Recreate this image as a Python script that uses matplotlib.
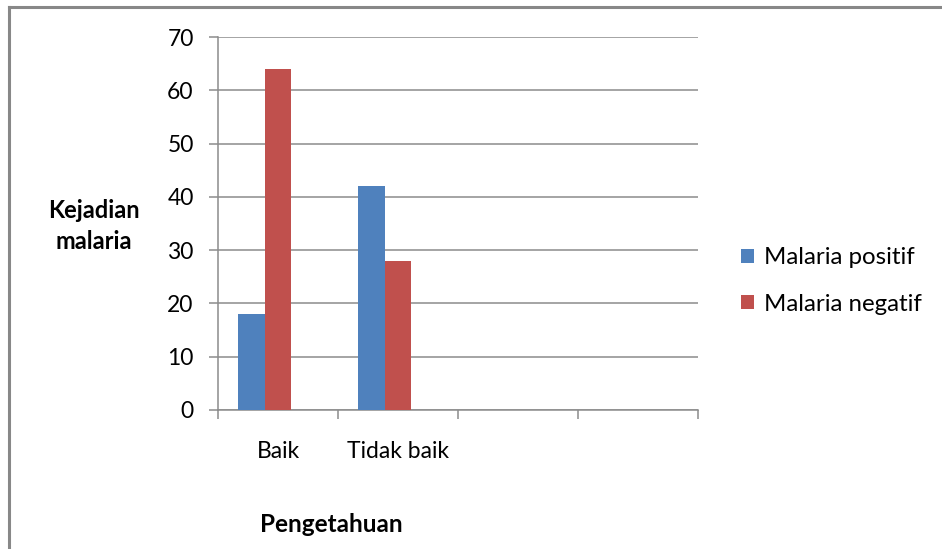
import matplotlib
matplotlib.use("Agg")
import matplotlib.pyplot as plt
from matplotlib.lines import Line2D
from matplotlib.patches import Patch
import numpy as np

categories = ["Baik", "Tidak baik", "", ""]
malaria_positif = [18, 42, None, None]
malaria_negatif = [64, 28, None, None]
series_names = ["Malaria positif", "Malaria negatif"]
colors = ["#4F81BD", "#C0504D"]
grid_color = "#8C8C8C"

plt.rcParams["font.family"] = ["Lato", "DejaVu Sans"]

W, H = 942, 549
fig = plt.figure(figsize=(W / 100, H / 100), dpi=100)
fig.patch.set_facecolor("white")

ax = fig.add_axes([218 / W, 1 - 410 / H, (698 - 218) / W, (410 - 37) / H])

x = np.arange(len(categories))
# three-slot clustering (gap width 150%), third slot left empty
bw = 1 / 4.5
offsets = [-bw, 0.0]
for vals, name, col, off in zip([malaria_positif, malaria_negatif], series_names, colors, offsets):
    xs = [xi + off for xi, v in zip(x, vals) if v is not None]
    hs = [v for v in vals if v is not None]
    ax.bar(xs, hs, width=bw, color=col, label=name, zorder=3)

ax.set_xlim(-0.5, len(categories) - 0.5)
ax.set_ylim(0, 70)
ax.set_yticks(range(0, 71, 10))
ax.set_yticklabels([str(v) for v in range(0, 71, 10)], fontsize=16.5)
ax.set_xticks(x)
ax.set_xticklabels(categories, fontsize=16.5)
ax.set_xticks(np.arange(-0.5, len(categories), 1.0), minor=True)
ax.tick_params(axis="x", which="major", length=0, pad=22)
ax.tick_params(axis="x", which="minor", length=6.5, width=1.1, color=grid_color, direction="out")
ax.tick_params(axis="y", length=6.5, width=1.1, color=grid_color, pad=11, direction="out")
ax.yaxis.grid(True, color=grid_color, linewidth=1.1, zorder=0)
ax.set_axisbelow(True)
for s in ["top", "right"]:
    ax.spines[s].set_visible(False)
for s in ["left", "bottom"]:
    ax.spines[s].set_color(grid_color)
    ax.spines[s].set_linewidth(1.1)

fig.text(94 / W, 1 - 226 / H, "Kejadian\nmalaria", ha="center", va="center",
         fontsize=17, fontweight="bold", linespacing=1.42)
fig.text(331 / W, 1 - 525 / H, "Pengetahuan", ha="center", va="center",
         fontsize=17.5, fontweight="bold")

handles = [Patch(facecolor=c, edgecolor="none") for c in colors]
fig.legend(handles, series_names, loc="center left",
           bbox_to_anchor=(741 / W, 1 - 281 / H), frameon=False, fontsize=17.3,
           handlelength=0.55, handleheight=0.55, handletextpad=0.4, labelspacing=1.05,
           borderaxespad=0, borderpad=0)

# outer chart frame (left and top edges)
fig.add_artist(Line2D([9 / W, 9 / W], [0, 1 - 7 / H], color="#888888", linewidth=2.2,
                      transform=fig.transFigure))
fig.add_artist(Line2D([9 / W, 1], [1 - 7 / H, 1 - 7 / H], color="#888888", linewidth=2.2,
                      transform=fig.transFigure))

fig.savefig("out.png", dpi=100, facecolor="white")
